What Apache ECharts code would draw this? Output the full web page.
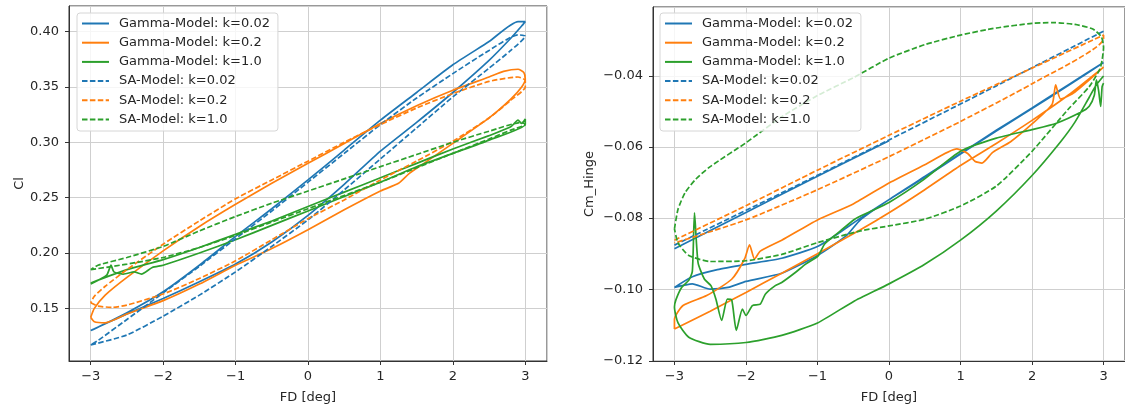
<!DOCTYPE html>
<html>
<head>
<meta charset="utf-8">
<script src="https://cdn.jsdelivr.net/npm/echarts@6/dist/echarts.min.js"></script>
<style>
  body { margin: 0; background: #fff; }
  #chart { width: 1125px; height: 410px; }
</style>
</head>
<body>
<div id="chart"></div>
<script>
// legend names
const names = [
  "Gamma-Model: k=0.02",
  "Gamma-Model: k=0.2",
  "Gamma-Model: k=1.0",
  "SA-Model: k=0.02",
  "SA-Model: k=0.2",
  "SA-Model: k=1.0",
];
const colors = ["#1f77b4", "#ff7f0e", "#2ca02c"];

// ---- left plot: Cl vs FD ----
const clGamma002 = [[-3,0.130],[-2.5,0.145],[-2,0.159],[-1.5,0.174],[-1,0.190],[-0.5,0.210],[0,0.234],[0.5,0.262],[1,0.292],[1.5,0.318],[2,0.345],[2.5,0.374],[2.8,0.394],[2.95,0.405],[3,0.409],[2.9,0.409],[2.5,0.391],[2,0.370],[1.5,0.345],[1,0.320],[0.5,0.293],[0,0.266],[-0.5,0.240],[-1,0.215],[-1.5,0.189],[-2,0.165],[-2.5,0.146],[-2.9,0.133],[-3,0.130]];
const clGamma02 = [[-3,0.142],[-2.95,0.138],[-2.8,0.137],[-2.5,0.145],[-2,0.157],[-1.5,0.172],[-1,0.189],[-0.5,0.204],[0,0.221],[0.5,0.239],[1,0.256],[1.25,0.263],[1.4,0.272],[1.6,0.281],[2,0.299],[2.5,0.322],[2.8,0.339],[2.95,0.350],[3,0.357],[2.98,0.363],[2.9,0.366],[2.7,0.364],[2.5,0.359],[2,0.347],[1.5,0.333],[1,0.317],[0.5,0.299],[0,0.281],[-0.5,0.263],[-1,0.244],[-1.5,0.224],[-2,0.202],[-2.5,0.178],[-2.8,0.162],[-2.95,0.150],[-3,0.142]];
const clGamma10 = [[-3,0.173],[-2.5,0.185],[-2,0.194],[-1.5,0.205],[-1,0.217],[-0.5,0.229],[0,0.242],[0.5,0.255],[1,0.268],[1.5,0.281],[2,0.294],[2.5,0.306],[2.8,0.314],[2.9,0.320],[2.95,0.317],[3,0.321],[3,0.316],[2.5,0.302],[2,0.290],[1.5,0.278],[1,0.264],[0.5,0.251],[0,0.238],[-0.5,0.225],[-1,0.212],[-1.5,0.200],[-2,0.189],[-2.15,0.187],[-2.3,0.181],[-2.4,0.183],[-2.55,0.181],[-2.68,0.183],[-2.72,0.189],[-2.78,0.180],[-3,0.172]];
const clSA002 = [[-3,0.117],[-2.5,0.126],[-2,0.143],[-1.5,0.162],[-1,0.183],[-0.5,0.206],[0,0.230],[0.5,0.257],[1,0.285],[1.5,0.313],[2,0.341],[2.5,0.367],[2.8,0.383],[3,0.396],[2.9,0.397],[2.5,0.383],[2,0.362],[1.5,0.340],[1,0.316],[0.5,0.290],[0,0.264],[-0.5,0.238],[-1,0.213],[-1.5,0.188],[-2,0.164],[-2.5,0.140],[-2.9,0.121],[-3,0.117]];
const clSA02 = [[-3,0.155],[-2.9,0.152],[-2.7,0.151],[-2.5,0.153],[-2,0.163],[-1.5,0.177],[-1,0.193],[-0.5,0.212],[0,0.231],[0.5,0.248],[1,0.266],[1.5,0.283],[2,0.301],[2.5,0.322],[2.8,0.338],[3,0.350],[3,0.356],[2.9,0.359],[2.5,0.355],[2,0.344],[1.5,0.331],[1,0.316],[0.5,0.300],[0,0.283],[-0.5,0.266],[-1,0.249],[-1.5,0.229],[-2,0.208],[-2.5,0.185],[-2.8,0.170],[-2.95,0.161],[-3,0.155]];
const clSA10 = [[-3,0.185],[-2.5,0.190],[-2,0.196],[-1.5,0.205],[-1,0.216],[-0.5,0.228],[0,0.240],[0.5,0.252],[1,0.264],[1.5,0.277],[2,0.290],[2.5,0.303],[2.8,0.311],[3,0.316],[2.95,0.318],[2.5,0.310],[2,0.300],[1.5,0.289],[1,0.278],[0.5,0.267],[0,0.256],[-0.5,0.245],[-1,0.233],[-1.5,0.220],[-2,0.206],[-2.5,0.196],[-2.9,0.189],[-3,0.185]];

// ---- right plot: Cm_Hinge vs FD ----
// '-' marks a gap in the trace
const cmGamma002 = [[0,-0.0582],[-1,-0.0682],[-2,-0.0784],[-3,-0.0886],["-","-"],[-3,-0.0995],[-2.75,-0.0985],[-2.5,-0.1000],[-2.25,-0.0995],[-2,-0.0978],[-1.5,-0.0955],[-1,-0.0905],[-0.6,-0.0850],[-0.4,-0.0805],[0,-0.0748],[0.5,-0.0683],[1,-0.0618],[1.5,-0.0553],[2,-0.0490],[2.5,-0.0426],[3,-0.0362],[2.5,-0.0428],[2,-0.0492],[1.5,-0.0555],[1,-0.0620],[0.5,-0.0685],[0,-0.0748],[-0.4,-0.0800],[-0.7,-0.0842],[-1,-0.0880],[-1.5,-0.0913],[-2,-0.0930],[-2.4,-0.0945],[-2.75,-0.0965],[-3,-0.0995]];
const cmGamma02 = [[-3,-0.1112],[-2.5,-0.1062],[-2,-0.1009],[-1.5,-0.0955],[-1,-0.0900],[-0.4,-0.0833],[0,-0.0785],[0.5,-0.0720],[1,-0.0652],[1.5,-0.0590],[2,-0.0525],[2.5,-0.0455],[3,-0.0375],[2.6,-0.0445],[2.4,-0.0465],[2.33,-0.0425],[2.28,-0.0480],[2,-0.0535],[1.7,-0.0585],[1.45,-0.0615],[1.3,-0.0645],[1.2,-0.0640],[1.1,-0.0618],[0.95,-0.0605],[0.5,-0.0650],[0,-0.0701],[-0.5,-0.0760],[-1,-0.0805],[-1.5,-0.0862],[-1.8,-0.0893],[-1.88,-0.0915],[-1.95,-0.0875],[-2.02,-0.0915],[-2.2,-0.0972],[-2.55,-0.1018],[-2.88,-0.1046],[-3,-0.1085],[-3,-0.1112]];
const cmGamma10 = [[3,-0.0400],[2.9,-0.0425],[2.8,-0.0460],[2.6,-0.0530],[2.4,-0.0585],[2,-0.0680],[1.5,-0.0780],[1,-0.0862],[0.5,-0.0930],[0,-0.0985],[-0.5,-0.1035],[-1,-0.1095],[-1.5,-0.1130],[-2,-0.1150],[-2.5,-0.1155],[-2.8,-0.1135],[-2.95,-0.1095],[-3,-0.1050],[-2.98,-0.1030],[-2.9,-0.0995],[-2.8,-0.0975],[-2.75,-0.0950],[-2.72,-0.0785],[-2.67,-0.0925],[-2.58,-0.0972],[-2.49,-0.0990],[-2.42,-0.1028],[-2.34,-0.1088],[-2.26,-0.1028],[-2.2,-0.1030],[-2.135,-0.1116],[-2.05,-0.1056],[-2.0,-0.1074],[-1.91,-0.1046],[-1.8,-0.1042],[-1.73,-0.1014],[-1.59,-0.0990],[-1.5,-0.0981],[-1.31,-0.0953],[-1.17,-0.0930],[-0.99,-0.0906],[-0.9,-0.0873],[-0.71,-0.0841],[-0.48,-0.0803],[-0.3,-0.0785],[0,-0.0756],[0.49,-0.0691],[1,-0.0612],[1.5,-0.0575],[2,-0.0551],[2.34,-0.0533],[2.7,-0.0500],[2.8,-0.0485],[2.87,-0.0455],[2.9,-0.0411],[2.93,-0.0440],[2.96,-0.0486],[2.98,-0.0430],[3,-0.0420]];
const cmSA002 = [[-3,-0.0876],[-1.5,-0.0729],[0,-0.0580],[1.5,-0.0428],[3,-0.0274]];
const cmSA02 = [[-3,-0.0862],[-2,-0.0765],[-1,-0.0665],[0,-0.0567],[1,-0.0471],[2,-0.0378],[3,-0.0285],[3,-0.0295],[2,-0.0422],[1,-0.0528],[0,-0.0627],[-1,-0.0720],[-2,-0.0805],[-3,-0.0870]];
const cmSA10 = [[-3,-0.0830],[-2.95,-0.0775],[-2.85,-0.0728],[-2.7,-0.0690],[-2.5,-0.0655],[-2,-0.0588],[-1.5,-0.0515],[-1,-0.0455],[-0.5,-0.0405],[0,-0.0350],[0.5,-0.0312],[1,-0.0285],[1.5,-0.0265],[2,-0.0252],[2.3,-0.0250],[2.6,-0.0255],[2.85,-0.0268],[2.97,-0.0290],[3,-0.0320],[2.98,-0.0355],[2.95,-0.0380],[2.8,-0.0430],[2.5,-0.0495],[2,-0.0612],[1.5,-0.0710],[1,-0.0766],[0.5,-0.0803],[0,-0.0822],[-0.4,-0.0836],[-1,-0.0869],[-1.5,-0.0902],[-2,-0.0920],[-2.5,-0.0922],[-2.8,-0.0905],[-2.95,-0.0870],[-3,-0.0830]];

const leftData = [clGamma002, clGamma02, clGamma10, clSA002, clSA02, clSA10];
const rightData = [cmGamma002, cmGamma02, cmGamma10, cmSA002, cmSA02, cmSA10];

const font = "DejaVu Sans";
const fs = 13;
const txt = "#262626";
const fmt = (d) => (v) => (v < 0 ? "\u2212" : "") + Math.abs(v).toFixed(d);

function makeX(idx) {
  return {
    type: "value", gridIndex: idx, min: -3.3, max: 3.3,
    name: "FD [deg]", nameLocation: "middle", nameGap: 30,
    nameTextStyle: { fontFamily: font, fontSize: fs, color: txt },
    axisLine: { onZero: false, lineStyle: { color: "#333", width: 1 } },
    axisTick: { show: true, length: 4, lineStyle: { color: "#333" } },
    axisLabel: { showMinLabel: false, showMaxLabel: false, margin: 9, fontFamily: font, fontSize: fs, color: txt, formatter: fmt(0) },
    splitLine: { show: true, lineStyle: { color: "#cfcfcf", width: 1 } },
  };
}
function makeY(idx, min, max, name, gap, showMin) {
  return {
    type: "value", gridIndex: idx, min: min, max: max,
    name: name, nameLocation: "middle", nameGap: gap, nameRotate: 90,
    nameTextStyle: { fontFamily: font, fontSize: fs, color: txt },
    axisLine: { show: true, onZero: false, lineStyle: { color: "#333", width: 1 } },
    axisTick: { show: true, length: 4, lineStyle: { color: "#333" } },
    axisLabel: { showMinLabel: showMin, showMaxLabel: false, margin: 10, fontFamily: font, fontSize: fs, color: txt, formatter: fmt(2) },
    splitLine: { show: true, lineStyle: { color: "#cfcfcf", width: 1 } },
  };
}
function makeLegend(left) {
  return {
    data: names, orient: "vertical", left: left, top: 13,
    itemWidth: 27, itemHeight: 14, itemGap: 6.2,
    padding: [4, 8, 5, 4],
    backgroundColor: "rgba(255,255,255,0.8)",
    borderColor: "#d6d6d6", borderWidth: 1, borderRadius: 3,
    itemStyle: { color: "rgba(0,0,0,0)", borderColor: "rgba(0,0,0,0)", borderWidth: 0, opacity: 0 },
    textStyle: { fontFamily: font, fontSize: fs, color: txt, padding: [0, 0, 0, 5] },
  };
}
function makeSeries(dataList, idx) {
  return dataList.map((d, i) => ({
    name: names[i], type: "line", xAxisIndex: idx, yAxisIndex: idx,
    data: d, symbol: "none", smooth: 0.2, connectNulls: false,
    lineStyle: { color: colors[i % 3], width: 1.7, type: i < 3 ? "solid" : [5.5, 2.4] },
    itemStyle: { color: colors[i % 3] },
  }));
}

const chart = echarts.init(document.getElementById("chart"));
chart.setOption({
  animation: false,
  backgroundColor: "#fff",
  grid: [
    { left: 69, top: 6, width: 478, height: 355, show: true, borderColor: "#333", borderWidth: 1, backgroundColor: "transparent" },
    { left: 653, top: 7, width: 476, height: 354, show: true, borderColor: "#333", borderWidth: 1, backgroundColor: "transparent" },
  ],
  xAxis: [makeX(0), makeX(1)],
  yAxis: [makeY(0, 0.1025, 0.4231, "Cl", 42, false), makeY(1, -0.1202, -0.0206, "Cm_Hinge", 57, true)],
  legend: [makeLegend(77), makeLegend(660)],
  series: makeSeries(leftData, 0).concat(makeSeries(rightData, 1)),
});
</script>
</body>
</html>
